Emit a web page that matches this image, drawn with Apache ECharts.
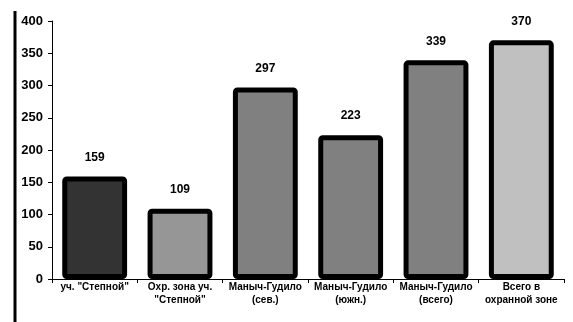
<!DOCTYPE html>
<html>
<head>
<meta charset="utf-8">
<script src="https://cdn.jsdelivr.net/npm/echarts@6/dist/echarts.min.js"></script>
<style>
  html, body { margin: 0; padding: 0; background: #fff; }
  #chart { width: 573px; height: 322px; }
</style>
</head>
<body>
<div id="chart"></div>
<script>
// Site names along the category axis
const categories = [
  'уч. "Степной"',
  'Охр. зона уч.\n"Степной"',
  'Маныч-Гудило\n(сев.)',
  'Маныч-Гудило\n(южн.)',
  'Маныч-Гудило\n(всего)',
  'Всего в\nохранной зоне'
];
// Counts per site
const values = [159, 109, 297, 223, 339, 370];
// Fill shade of each bar
const barColors = ['#333333', '#969696', '#808080', '#808080', '#808080', '#c0c0c0'];

const chart = echarts.init(document.getElementById('chart'));
const font = '"Liberation Sans", Arial, sans-serif';

chart.setOption({
  animation: false,
  grid: { left: 52, right: 9, top: 21, bottom: 43 },
  xAxis: {
    type: 'category',
    data: categories,
    axisLine: { lineStyle: { color: '#000', width: 1 } },
    axisTick: { show: true, alignWithLabel: false, length: 4, lineStyle: { color: '#000' } },
    axisLabel: {
      color: '#000', fontFamily: font, fontWeight: 'bold', fontSize: 10,
      margin: 2, lineHeight: 13, interval: 0
    }
  },
  yAxis: {
    type: 'value',
    min: 0, max: 400, interval: 50,
    splitLine: { show: false },
    axisLine: { show: true, lineStyle: { color: '#000', width: 1 } },
    axisTick: { show: true, length: 4, lineStyle: { color: '#000' } },
    axisLabel: { color: '#000', fontFamily: font, fontWeight: 'bold', fontSize: 13, margin: 9 }
  },
  graphic: [{
    type: 'line',
    shape: { x1: 15, y1: 11, x2: 15, y2: 322 },
    style: { stroke: '#000', lineWidth: 3 }
  }],
  series: [{
    type: 'bar',
    barWidth: '76%',
    data: values.map((v, i) => ({
      value: v,
      itemStyle: { color: barColors[i] }
    })),
    itemStyle: { borderColor: '#000', borderWidth: 5, borderRadius: 2 },
    label: {
      show: true, position: 'top', distance: 13,
      color: '#000', fontFamily: font, fontWeight: 'bold', fontSize: 12
    }
  }]
});
</script>
</body>
</html>
